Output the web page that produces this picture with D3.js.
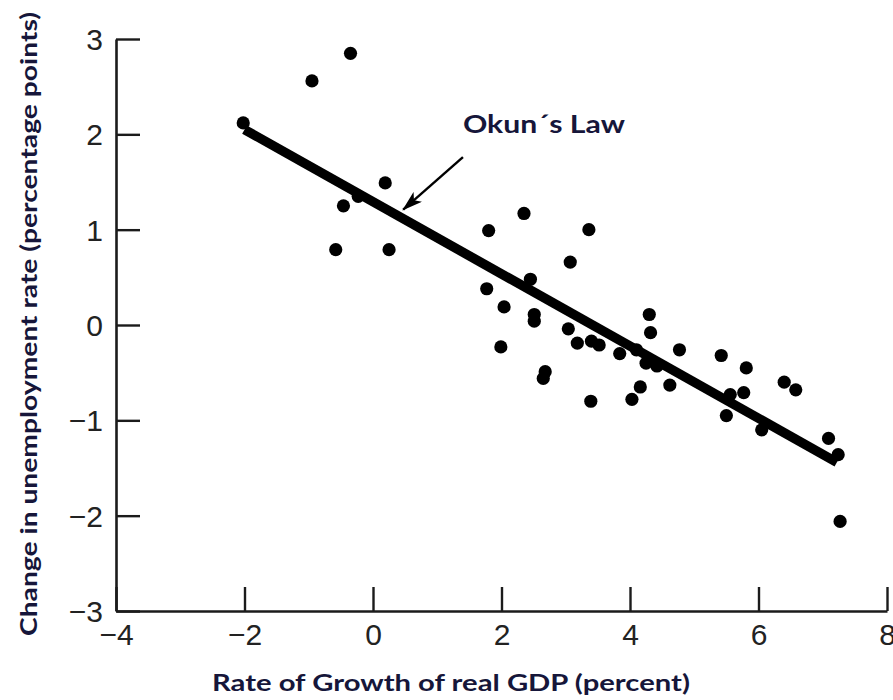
<!DOCTYPE html>
<html>
<head>
<meta charset="utf-8">
<script src="https://cdn.jsdelivr.net/npm/d3@7"></script>
<style>
  html, body { margin: 0; padding: 0; background: #fff; }
  svg { display: block; }
</style>
</head>
<body>
<svg id="chart" width="893" height="700"></svg>
<script>
// Annual observations: real GDP growth (%) vs change in unemployment rate (pp)
const gdpGrowth = [
  -0.35, -0.95, -2.02, 0.19, -0.46, -0.23, -0.58, 0.25,
  2.35, 1.80, 3.36, 3.07, 2.45, 1.77, 2.04, 2.51, 2.51, 3.04,
  4.30, 4.32, 3.18, 3.40, 3.52, 3.84, 4.10, 4.25, 4.42, 1.99,
  2.68, 2.65, 3.39, 4.16, 4.03, 4.62, 4.77, 5.42, 5.81, 5.56,
  5.77, 5.50, 6.40, 6.58, 6.05, 7.09, 7.24, 7.27
];
const unempChange = [
  2.85, 2.56, 2.12, 1.49, 1.25, 1.35, 0.79, 0.79,
  1.17, 0.99, 1.00, 0.66, 0.48, 0.38, 0.19, 0.11, 0.04, -0.04,
  0.11, -0.08, -0.19, -0.17, -0.21, -0.30, -0.26, -0.40, -0.43, -0.23,
  -0.49, -0.56, -0.80, -0.65, -0.78, -0.63, -0.26, -0.32, -0.45, -0.73,
  -0.71, -0.95, -0.60, -0.68, -1.10, -1.19, -1.36, -2.06
];

// Fitted Okun's Law line (endpoints in data units)
const fitGrowth = [-2.0, 7.22];
const fitUnemp = [2.05, -1.44];

// Axis ticks
const xTicks = [-4, -2, 0, 2, 4, 6, 8];
const yTicks = [-3, -2, -1, 0, 1, 2, 3];

// Annotation: label anchor, arrow tail and arrow tip (data units)
const noteText = ["Okun\u00B4s Law"];
const noteLabel = [1.40, 2.01];
const noteTail = [1.40, 1.76];
const noteTip = [0.47, 1.21];

const xLabel = "Rate of Growth of real GDP (percent)";
const yLabel = "Change in unemployment rate (percentage points)";

const svg = d3.select("#chart");
const ink = "#1b1b1b";
const titleInk = "#16163a";

const x = d3.scaleLinear().domain([-4, 8]).range([116, 887]);
const y = d3.scaleLinear().domain([-3, 3]).range([611, 39]);

const tickLen = 24;
const tickFont = "'Liberation Sans', Arial, Helvetica, sans-serif";

// X axis: ticks point up into the plot
const gx = svg.append("g")
  .attr("transform", `translate(0,${y(-3)})`)
  .call(d3.axisBottom(x).tickValues(xTicks).tickSize(-tickLen).tickSizeOuter(0)
    .tickPadding(12).tickFormat(d3.format("d")));

// Y axis: ticks point right into the plot
const gy = svg.append("g")
  .attr("transform", `translate(${x(-4)},0)`)
  .call(d3.axisLeft(y).tickValues(yTicks).tickSize(-tickLen).tickSizeOuter(0)
    .tickPadding(12).tickFormat(d3.format("d")));

[gx, gy].forEach(g => {
  g.select(".domain").attr("stroke", ink).attr("stroke-width", 2.6);
  g.selectAll(".tick line").attr("stroke", ink).attr("stroke-width", 2.4);
  g.selectAll(".tick text")
    .attr("fill", "#222")
    .style("font-family", tickFont)
    .style("font-size", "30px");
});
gx.selectAll(".tick text").attr("y", 13).attr("dy", "0.71em");
gy.selectAll(".tick text").attr("x", -13).attr("dy", "0.35em");

// Regression line
svg.append("line")
  .attr("x1", x(fitGrowth[0])).attr("y1", y(fitUnemp[0]))
  .attr("x2", x(fitGrowth[1])).attr("y2", y(fitUnemp[1]))
  .attr("stroke", "#000")
  .attr("stroke-width", 9.5);

// Observations
const pts = gdpGrowth.map((g, i) => ({ g, u: unempChange[i] }));
svg.append("g").selectAll("circle")
  .data(pts)
  .join("circle")
  .attr("cx", d => x(d.g))
  .attr("cy", d => y(d.u))
  .attr("r", 6.6)
  .attr("fill", "#000");

// Arrow marker
svg.append("defs").append("marker")
  .attr("id", "arrowhead")
  .attr("viewBox", "0 0 16 10")
  .attr("refX", 15).attr("refY", 5)
  .attr("markerUnits", "userSpaceOnUse")
  .attr("markerWidth", 21).attr("markerHeight", 13)
  .attr("orient", "auto")
  .append("path")
  .attr("d", "M0,0 L16,5 L0,10 L4,5 Z")
  .attr("fill", "#000");

svg.append("line")
  .attr("x1", x(noteTail[0])).attr("y1", y(noteTail[1]))
  .attr("x2", x(noteTip[0])).attr("y2", y(noteTip[1]))
  .attr("stroke", "#000")
  .attr("stroke-width", 2.4)
  .attr("marker-end", "url(#arrowhead)");

const boldFont = "Lato, 'Open Sans', 'Noto Sans', sans-serif";

svg.append("text")
  .attr("x", x(noteLabel[0])).attr("y", y(noteLabel[1]))
  .attr("fill", titleInk)
  .attr("textLength", 162).attr("lengthAdjust", "spacingAndGlyphs")
  .style("font-family", boldFont).style("font-weight", 700).style("font-size", "24px")
  .text(noteText[0]);

// Axis titles
svg.append("text")
  .attr("x", 451).attr("y", 691)
  .attr("text-anchor", "middle")
  .attr("fill", titleInk)
  .attr("textLength", 478).attr("lengthAdjust", "spacingAndGlyphs")
  .style("font-family", boldFont).style("font-weight", 700).style("font-size", "22px")
  .text(xLabel);

svg.append("text")
  .attr("transform", "translate(37,324) rotate(-90)")
  .attr("text-anchor", "middle")
  .attr("fill", titleInk)
  .attr("textLength", 624).attr("lengthAdjust", "spacingAndGlyphs")
  .style("font-family", boldFont).style("font-weight", 700).style("font-size", "22px")
  .text(yLabel);
</script>
</body>
</html>
